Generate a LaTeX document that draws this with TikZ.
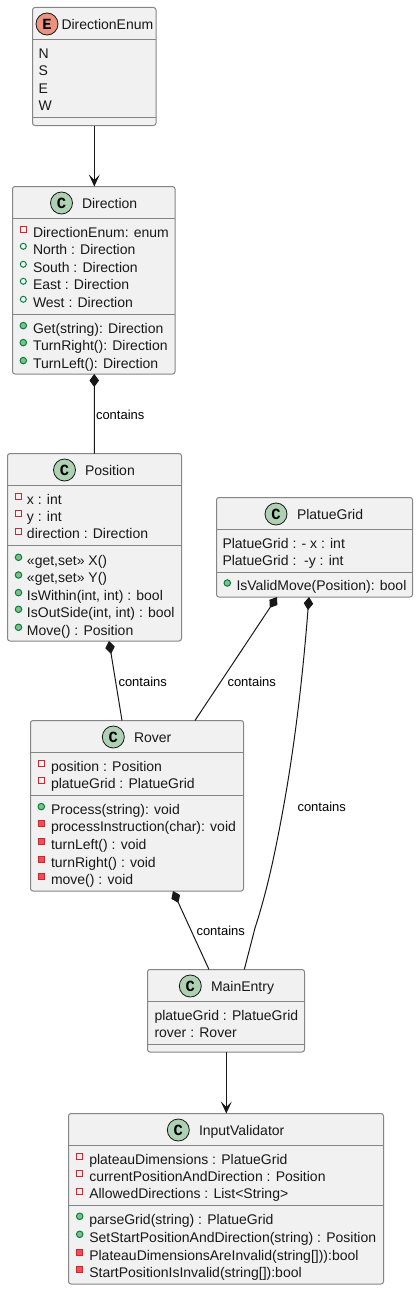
\documentclass[tikz,border=0pt]{standalone}
\usepackage{fontspec}
\setmainfont{Liberation Sans}
\newfontfamily\spotfont{Liberation Mono}[Scale=1]
\usetikzlibrary{arrows.meta,calc}
\definecolor{boxfill}{HTML}{F1F1F1}
\definecolor{boxline}{HTML}{858585}
\definecolor{ink}{HTML}{181818}
\definecolor{spotc}{HTML}{ADD1B2}
\definecolor{spote}{HTML}{EB937F}
\definecolor{privline}{HTML}{C82930}
\definecolor{privfill}{HTML}{F24D5C}
\definecolor{publine}{HTML}{038048}
\definecolor{pubfill}{HTML}{84BE84}
\newcounter{memno}
\tikzset{
  classbox/.style={draw=boxline,fill=boxfill,line width=1pt,rounded corners=2.5pt,inner sep=0pt,outer sep=0pt},
  sepline/.style={draw=boxline,line width=1pt},
  membertext/.style={anchor=base west,inner sep=0pt,outer sep=0pt,text=ink,font=\fontsize{14}{16}\selectfont},
  titletext/.style={membertext},
  linktext/.style={anchor=base west,inner sep=0pt,outer sep=0pt,text=black,font=\fontsize{13}{15}\selectfont},
  spotc/.style={circle,draw=ink,fill=spotc,line width=.8pt,minimum size=22pt,inner sep=0pt,font=\spotfont\bfseries\fontsize{15.5}{15.5}\selectfont},
  spote/.style={spotc,fill=spote},
  vispf/.style={rectangle,draw=privline,line width=1pt,minimum size=6pt,inner sep=0pt},
  vispm/.style={rectangle,draw=privline,fill=privfill,line width=1pt,minimum size=6pt,inner sep=0pt},
  visuf/.style={circle,draw=publine,line width=1pt,minimum size=6pt,inner sep=0pt},
  visum/.style={circle,draw=publine,fill=pubfill,line width=1pt,minimum size=6.5pt,inner sep=0pt},
  assoc/.style={draw=ink,line width=1pt},
  openarrow/.style={assoc,-{Stealth[length=12pt,width=11pt,inset=5.5pt,color=ink]}},
  composed/.style={assoc,{Diamond[length=13pt,width=9.5pt,color=ink]}-},
}
% name, x1, y1, x2, y2, sep1, sep2
\newcommand{\umlbox}[7]{%
  \pgfmathsetmacro{\bw}{#4-#2}\pgfmathsetmacro{\bh}{#5-#3}%
  \pgfmathsetmacro{\bx}{(#2+#4)/2}\pgfmathsetmacro{\by}{(#3+#5)/2}%
  \node[classbox,minimum width=\bw pt,minimum height=\bh pt] (#1) at (\bx,\by) {};
  \draw[sepline] (#2,#6) -- (#4,#6);
  \draw[sepline] (#2,#7) -- (#4,#7);
}
% name, spot style, letter, spot x, spot y, title x, baseline, title
\newcommand{\umlhead}[8]{%
  \node[#2] (#1spot) at (#4,#5) {#3};
  \node[titletext] (#1title) at (#6,#7) {#8};
}
\newcommand{\themembno}{\arabic{memno}}
% visibility style, icon x, text x, baseline, text
\newcommand{\mem}[5]{%
  \stepcounter{memno}%
  \pgfmathsetmacro{\iy}{#4-7.7}%
  \node[#1] (icon\themembno) at (#2,\iy) {};
  \node[membertext] (row\themembno) at (#3,#4) {#5};
}
\newcommand{\plainmem}[3]{%
  \stepcounter{memno}%
  \node[membertext] (row\themembno) at (#1,#2) {#3};
}
\begin{document}
\begin{tikzpicture}[x=1pt,y=-1pt]
\useasboundingbox (0,0) rectangle (418,1290);
% DirectionEnum
\umlbox{DirectionEnum}{32.5}{7.5}{156}{125.5}{39.5}{117.5}
\umlhead{DirectionEnum}{spote}{E}{47}{24}{61.5}{29.3}{DirectionEnum}
\plainmem{38.5}{58.3}{N}
\plainmem{38.5}{75.3}{S}
\plainmem{38.5}{93.3}{E}
\plainmem{38.5}{110.3}{W}
% Direction
\umlbox{Direction}{12.5}{186.5}{175}{374}{218.5}{314.5}
\umlhead{Direction}{spotc}{C}{61.5}{203}{82}{208}{Direction}
\mem{vispf}{23.3}{33}{237.3}{DirectionEnum: enum}
\mem{visuf}{23.3}{33}{254}{North : Direction}
\mem{visuf}{23.3}{33}{272}{South : Direction}
\mem{visuf}{23.3}{33}{289}{East : Direction}
\mem{visuf}{23.3}{33}{307}{West : Direction}
\mem{visum}{23.3}{33}{333.3}{Get(string): Direction}
\mem{visum}{23.3}{33}{350.3}{TurnRight(): Direction}
\mem{visum}{23.3}{33}{368.3}{TurnLeft(): Direction}
% Position
\umlbox{Position}{7.5}{453.5}{181.5}{641}{485.5}{545.5}
\umlhead{Position}{spotc}{C}{64.5}{470}{85}{475.3}{Position}
\mem{vispf}{18.5}{27}{504.3}{x : int}
\mem{vispf}{18.5}{27}{521}{y : int}
\mem{vispf}{18.5}{27}{538.7}{direction : Direction}
\mem{visum}{18.5}{27}{565}{«get,set» X()}
\mem{visum}{18.5}{27}{582.7}{«get,set» Y()}
\mem{visum}{18.5}{27}{600.3}{IsWithin(int, int) : bool}
\mem{visum}{18.5}{27}{617}{IsOutSide(int, int) : bool}
\mem{visum}{18.5}{27}{635}{Move() : Position}
% PlatueGrid
\umlbox{PlatueGrid}{216.5}{497.5}{412.5}{597}{529.5}{572.5}
\umlhead{PlatueGrid}{spotc}{C}{276}{514}{297}{519.3}{PlatueGrid}
\plainmem{222.5}{548.3}{PlatueGrid : - x : int}
\plainmem{222.5}{565.3}{PlatueGrid :\ \ -y : int}
\mem{visum}{227.3}{236.5}{590.7}{IsValidMove(Position): bool}
% Rover
\umlbox{Rover}{30.5}{720.5}{243.5}{891}{752.5}{795.5}
\umlhead{Rover}{spotc}{C}{113.3}{737}{134}{742}{Rover}
\mem{vispf}{41.3}{51}{771.3}{position : Position}
\mem{vispf}{41.3}{51}{788}{platueGrid : PlatueGrid}
\mem{visum}{41.3}{51}{814.3}{Process(string): void}
\mem{vispm}{41.3}{51}{831.3}{processInstruction(char): void}
\mem{vispm}{41.3}{51}{849.3}{turnLeft() : void}
\mem{vispm}{41.3}{51}{867.3}{turnRight() : void}
\mem{vispm}{41.3}{51}{884.3}{move() : void}
% MainEntry
\umlbox{MainEntry}{147.5}{969.5}{304.5}{1052}{1001.5}{1044.5}
\umlhead{MainEntry}{spotc}{C}{190.3}{986}{211}{991}{MainEntry}
\plainmem{154.5}{1020}{platueGrid : PlatueGrid}
\plainmem{154.5}{1037.3}{rover : Rover}
% InputValidator
\umlbox{InputValidator}{68.5}{1113.5}{383.5}{1284}{1145.5}{1205.5}
\umlhead{InputValidator}{spotc}{C}{178.3}{1130}{199}{1135}{InputValidator}
\mem{vispf}{79.7}{89.3}{1164}{plateauDimensions : PlatueGrid}
\mem{vispf}{79.7}{89.3}{1181}{currentPositionAndDirection : Position}
\mem{vispf}{79.7}{89.3}{1198.7}{AllowedDirections : List<String>}
\mem{visum}{79.7}{89.3}{1224}{parseGrid(string) : PlatueGrid}
\mem{visum}{79.7}{89.3}{1242}{SetStartPositionAndDirection(string) : Position}
\mem{vispm}{79.7}{89.3}{1260.3}{PlateauDimensionsAreInvalid(string[])):bool}
\mem{vispm}{79.7}{89.3}{1277.3}{StartPositionIsInvalid(string[]):bool}
% connectors
\draw[openarrow] ([xshift=.05pt]DirectionEnum.south) -- ([xshift=.55pt]Direction.north);
\draw[composed] ([xshift=.5pt]Direction.south) -- ([xshift=-.2pt]Position.north);
\draw[composed] ([xshift=14.5pt]Position.south) -- ([xshift=-15pt]Rover.north);
\draw[composed] ([xshift=-37.5pt]PlatueGrid.south) -- ([xshift=58pt]Rover.north);
\draw[composed] ([xshift=-5.5pt]PlatueGrid.south) .. controls (303.4,668) and (296,738) .. (283.3,808) .. controls (276,848) and (268,888) .. (255,928) -- ([xshift=18.3pt]MainEntry.north);
\draw[composed] ([xshift=36pt]Rover.south) -- ([xshift=-17pt]MainEntry.north);
\draw[openarrow] ([xshift=.3pt]MainEntry.south) -- ([xshift=.3pt]InputValidator.north);
% labels
\node[linktext] (lab1) at (96,419) {contains};
\node[linktext] (lab2) at (118.5,686) {contains};
\node[linktext] (lab3) at (227.5,686) {contains};
\node[linktext] (lab4) at (297.5,811) {contains};
\node[linktext] (lab5) at (196.5,935) {contains};
\end{tikzpicture}
\end{document}
